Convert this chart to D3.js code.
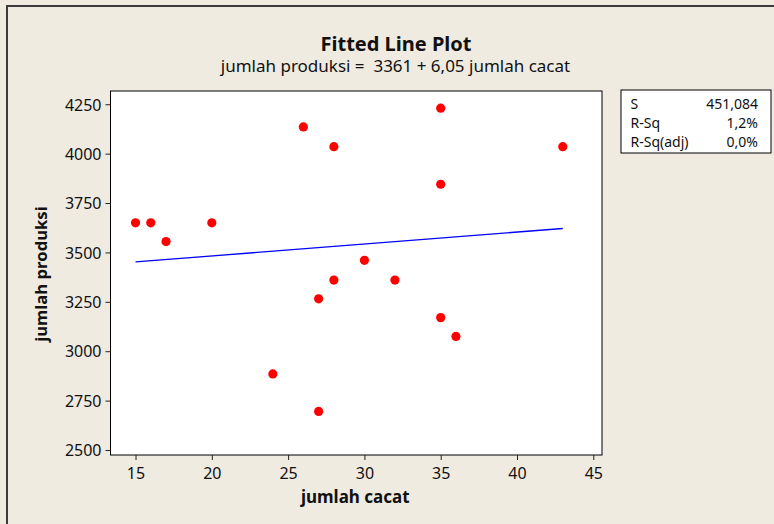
<!DOCTYPE html>
<html>
<head>
<meta charset="utf-8">
<script src="https://cdn.jsdelivr.net/npm/d3@7"></script>
<style>
  body { margin: 0; background: #efebe1; }
  svg { display: block; font-family: "Noto Sans", sans-serif; }
</style>
</head>
<body>
<svg id="chart" width="774" height="524"></svg>
<script>
// data
const jumlahCacat = [15, 16, 17, 20, 24, 26, 27, 27, 28, 28, 30, 32, 35, 35, 35, 36, 43];
const jumlahProduksi = [3650, 3650, 3555, 3650, 2885, 4135, 3265, 2695, 4035, 3360, 3460, 3360, 4230, 3845, 3170, 3075, 4035];
const fitIntercept = 3361;
const fitSlope = 6.05;
const xTicks = [15, 20, 25, 30, 35, 40, 45];
const yTicks = [2500, 2750, 3000, 3250, 3500, 3750, 4000, 4250];
const statLabels = ["S", "R-Sq", "R-Sq(adj)"];
const statValues = ["451,084", "1,2%", "0,0%"];

const points = jumlahCacat.map((x, i) => ({x, y: jumlahProduksi[i]}));

const svg = d3.select('#chart');
const plot = {left: 110.5, top: 91, right: 602, bottom: 455};

// page frame (only top and left edges visible in the crop)
svg.append('rect').attr('x', 0).attr('y', 0).attr('width', 774).attr('height', 524).attr('fill', '#efebe1');
svg.append('path')
  .attr('d', 'M7,524 V6 H774')
  .attr('fill', 'none')
  .attr('stroke', '#3c3c3c')
  .attr('stroke-width', 2);

const x = d3.scaleLinear().domain([13.36, 45.57]).range([plot.left, plot.right]);
const y = d3.scaleLinear().domain([2474.7, 4317]).range([plot.bottom, plot.top]);

svg.append('rect')
  .attr('x', plot.left).attr('y', plot.top)
  .attr('width', plot.right - plot.left).attr('height', plot.bottom - plot.top)
  .attr('fill', 'white').attr('stroke', 'black').attr('stroke-width', 1);

const xAxis = svg.append('g')
  .attr('transform', `translate(0,${plot.bottom})`)
  .call(d3.axisBottom(x).tickValues(xTicks).tickSize(5).tickPadding(4));
const yAxis = svg.append('g')
  .attr('transform', `translate(${plot.left},0)`)
  .call(d3.axisLeft(y).tickValues(yTicks).tickSize(5).tickPadding(4).tickFormat(d3.format('d')));

[xAxis, yAxis].forEach(a => {
  a.select('.domain').remove();
  a.selectAll('text').attr('font-size', '16px').attr('fill', '#111').attr('font-family', '"Noto Sans", sans-serif');
  a.selectAll('line').attr('stroke', '#222');
});
xAxis.selectAll('text').attr('dy', '0.93em');
yAxis.selectAll('text').attr('dy', '0.36em');

// fitted line
const fitLine = d3.line()
  .x(d => x(d))
  .y(d => y(fitIntercept + fitSlope * d));
svg.append('path')
  .datum(d3.extent(jumlahCacat))
  .attr('d', fitLine)
  .attr('fill', 'none')
  .attr('stroke', '#0000ff')
  .attr('stroke-width', 1.3);

svg.append('g')
  .selectAll('circle')
  .data(points)
  .enter()
  .append('circle')
  .attr('cx', d => x(d.x))
  .attr('cy', d => y(d.y))
  .attr('r', 4.6)
  .attr('fill', '#ff0000');

// titles
svg.append('text')
  .text('Fitted Line Plot')
  .attr('x', 396).attr('y', 50.5)
  .attr('text-anchor', 'middle')
  .attr('font-weight', 'bold')
  .attr('font-size', '20px')
  .attr('fill', '#111');

svg.append('text')
  .text('jumlah produksi =\u00a0 3361 + 6,05 jumlah cacat')
  .attr('x', 395.5).attr('y', 71.5)
  .attr('text-anchor', 'middle')
  .attr('font-size', '17px')
  .attr('fill', '#111');

svg.append('text')
  .text('jumlah cacat')
  .attr('x', (plot.left + plot.right) / 2 - 1).attr('y', 503)
  .attr('text-anchor', 'middle')
  .attr('font-weight', 'bold')
  .attr('font-size', '17px')
  .attr('fill', '#111');

svg.append('text')
  .text('jumlah produksi')
  .attr('transform', `translate(47,${(plot.top + plot.bottom) / 2 + 1}) rotate(-90)`)
  .attr('text-anchor', 'middle')
  .attr('font-weight', 'bold')
  .attr('font-size', '16.7px')
  .attr('fill', '#111');

// stats box
const box = svg.append('g');
box.append('rect')
  .attr('x', 621).attr('y', 90).attr('width', 150).attr('height', 63)
  .attr('fill', 'white').attr('stroke', 'black').attr('stroke-width', 1);
const rowY = [108.5, 128, 147];
box.selectAll('text.lab')
  .data(statLabels).enter().append('text')
  .attr('class', 'lab')
  .text(d => d)
  .attr('x', 630.5).attr('y', (d, i) => rowY[i])
  .attr('font-size', '14px').attr('fill', '#111');
box.selectAll('text.val')
  .data(statValues).enter().append('text')
  .attr('class', 'val')
  .text(d => d)
  .attr('x', 758).attr('y', (d, i) => rowY[i])
  .attr('text-anchor', 'end')
  .attr('font-size', '14px').attr('fill', '#111');
</script>
</body>
</html>
